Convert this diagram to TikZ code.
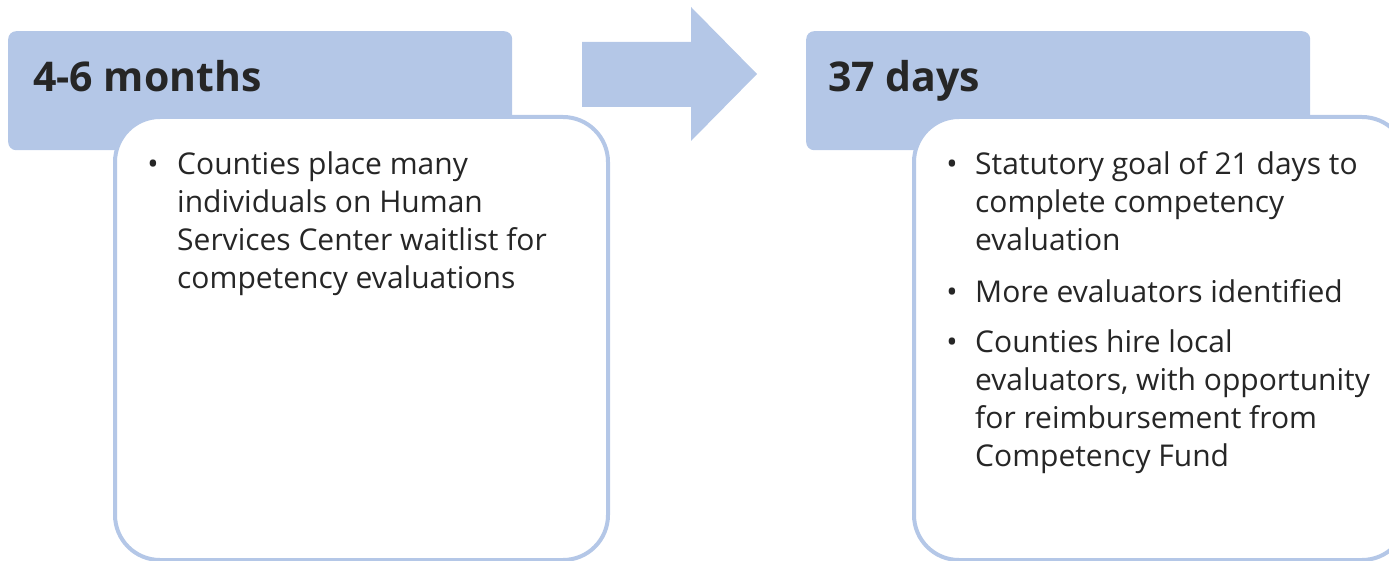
\documentclass[tikz,border=0pt]{standalone}
\usepackage{fontspec}
\setmainfont{Open Sans}
\definecolor{hdr}{HTML}{B4C7E7}
\definecolor{txt}{HTML}{262626}
\newcommand{\lines}[1]{\begin{tabular}[t]{@{}l@{}}#1\end{tabular}}
\tikzset{
  hdrbox/.style={fill=hdr, rounded corners=8pt, anchor=north west, inner sep=0pt},
  bodybox/.style={fill=white, draw=hdr, line width=4pt, rounded corners=45pt, anchor=north west, inner sep=0pt},
  title/.style={anchor=base west, inner sep=0pt, text=txt, font=\fontsize{41}{48}\selectfont\bfseries},
  item/.style={anchor=base west, inner sep=0pt, text=txt, font=\fontsize{30}{38}\selectfont},
  bul/.style={anchor=base, inner sep=0pt, text=txt, font=\fontsize{30}{38}\selectfont}
}
\begin{document}
\begin{tikzpicture}[x=1pt,y=-1pt]
\useasboundingbox (0,0) rectangle (1389,561);
\clip (0,0) rectangle (1389,561);
% left group
\node[hdrbox, minimum width=504pt, minimum height=119pt] (h1) at (8,31) {};
\node[bodybox, minimum width=493pt, minimum height=443pt] (b1) at (113,115) {};
\node[title] (t1) at (33,92) {4-6 months};
\node[bul] (d1) at (153,175) {•};
\node[item] (i1) at (177,175) {\lines{Counties place many\\individuals on Human\\Services Center waitlist for\\competency evaluations}};
% arrow
\fill[hdr] (582,42) -- (691,42) -- (691,7) -- (757,74) -- (691,141) -- (691,107) -- (582,107) -- cycle;
% right group
\node[hdrbox, minimum width=504pt, minimum height=119pt] (h2) at (806,31) {};
\node[bodybox, minimum width=493pt, minimum height=443pt] (b2) at (912,115) {};
\node[title] (t2) at (828,92) {37 days};
\node[bul] (d2) at (952,175) {•};
\node[item] (i2) at (975,175) {\lines{Statutory goal of 21 days to\\complete competency\\evaluation}};
\node[bul] (d3) at (952,302) {•};
\node[item] (i3) at (975,302) {More evaluators identified};
\node[bul] (d4) at (952,352) {•};
\node[item] (i4) at (975,352) {\lines{Counties hire local\\evaluators, with opportunity\\for reimbursement from\\Competency Fund}};
\end{tikzpicture}
\end{document}
